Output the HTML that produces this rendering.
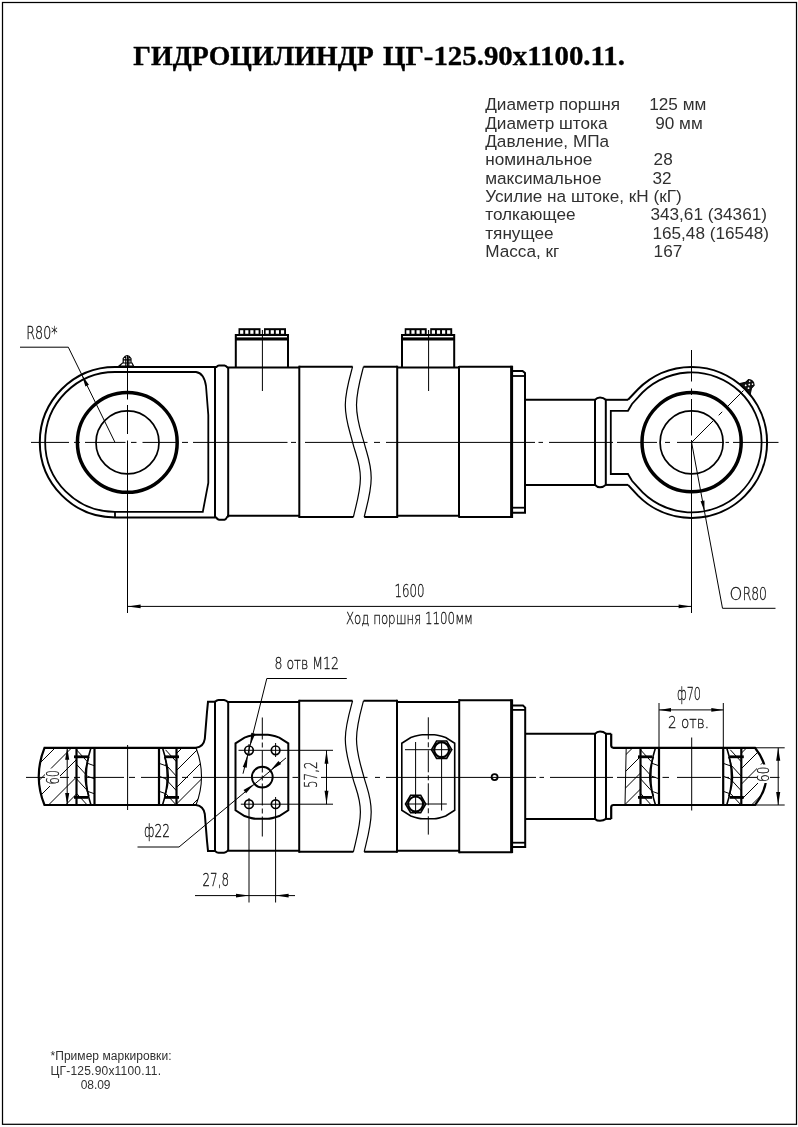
<!DOCTYPE html>
<html lang="ru"><head><meta charset="utf-8"><title>Гидроцилиндр ЦГ-125.90х1100.11</title>
<style>
html,body{margin:0;padding:0;background:#fff;}
body{width:798px;height:1127px;overflow:hidden;}
svg{display:block;will-change:transform;}
svg text{font-family:"Liberation Sans",sans-serif;}
svg .cad{font-family:"DejaVu Sans Light","Liberation Sans",sans-serif;}
svg .ttl{font-family:"Liberation Serif",serif;font-weight:bold;}
</style></head><body>
<svg width="798" height="1127" viewBox="0 0 798 1127" fill="none" stroke="#000" stroke-linecap="butt" stroke-linejoin="miter">
<rect x="0" y="0" width="798" height="1127" fill="#fff" stroke="none"/>
<rect x="2.5" y="2.5" width="794" height="1121.8" stroke-width="1.25"/>
<text class="ttl" x="133.3" y="65" font-size="28" textLength="240.5" lengthAdjust="spacingAndGlyphs" fill="#000" stroke="#000" stroke-width="0.35">ГИДРОЦИЛИНДР</text>
<text class="ttl" x="383" y="65" font-size="28" textLength="242" lengthAdjust="spacingAndGlyphs" fill="#000" stroke="#000" stroke-width="0.35">ЦГ-125.90х1100.11.</text>
<text transform="translate(485.2,110.4) scale(1.1026,1)" font-size="15.6" fill="#303030" stroke="none">Диаметр поршня</text>
<text transform="translate(649.2,110.4) scale(1.1026,1)" font-size="15.6" fill="#303030" stroke="none">125 мм</text>
<text transform="translate(485.2,128.7) scale(1.1026,1)" font-size="15.6" fill="#303030" stroke="none">Диаметр штока</text>
<text transform="translate(655.2,128.7) scale(1.1026,1)" font-size="15.6" fill="#303030" stroke="none">90 мм</text>
<text transform="translate(485.2,147.1) scale(1.1026,1)" font-size="15.6" fill="#303030" stroke="none">Давление, МПа</text>
<text transform="translate(485.2,165.4) scale(1.1026,1)" font-size="15.6" fill="#303030" stroke="none">номинальное</text>
<text transform="translate(653.6,165.4) scale(1.1026,1)" font-size="15.6" fill="#303030" stroke="none">28</text>
<text transform="translate(485.2,183.8) scale(1.1026,1)" font-size="15.6" fill="#303030" stroke="none">максимальное</text>
<text transform="translate(652.4,183.8) scale(1.1026,1)" font-size="15.6" fill="#303030" stroke="none">32</text>
<text transform="translate(485.2,202.1) scale(1.1026,1)" font-size="15.6" fill="#303030" stroke="none">Усилие на штоке, кН (кГ)</text>
<text transform="translate(485.2,220.4) scale(1.1026,1)" font-size="15.6" fill="#303030" stroke="none">толкающее</text>
<text transform="translate(650.4,220.4) scale(1.1026,1)" font-size="15.6" fill="#303030" stroke="none">343,61 (34361)</text>
<text transform="translate(485.2,238.8) scale(1.1026,1)" font-size="15.6" fill="#303030" stroke="none">тянущее</text>
<text transform="translate(652.4,238.8) scale(1.1026,1)" font-size="15.6" fill="#303030" stroke="none">165,48 (16548)</text>
<text transform="translate(485.2,257.1) scale(1.1026,1)" font-size="15.6" fill="#303030" stroke="none">Масса, кг</text>
<text transform="translate(653.6,257.1) scale(1.1026,1)" font-size="15.6" fill="#303030" stroke="none">167</text>
<text x="50.5" y="1060" font-size="12" fill="#303030" stroke="none" textLength="121" lengthAdjust="spacing">*Пример маркировки:</text>
<text x="50.5" y="1074.5" font-size="12" fill="#303030" stroke="none" textLength="110.5" lengthAdjust="spacing">ЦГ-125.90х1100.11.</text>
<text x="80.7" y="1089" font-size="12" fill="#303030" stroke="none" textLength="29.8" lengthAdjust="spacing">08.09</text>
<line x1="31" y1="442.4" x2="69" y2="442.4" stroke-width="1" />
<line x1="74" y1="442.4" x2="80" y2="442.4" stroke-width="1" />
<line x1="85" y1="442.4" x2="125.5" y2="442.4" stroke-width="1" />
<line x1="131" y1="442.4" x2="136.5" y2="442.4" stroke-width="1" />
<line x1="142.5" y1="442.4" x2="176" y2="442.4" stroke-width="1" />
<line x1="182" y1="442.4" x2="188" y2="442.4" stroke-width="1" />
<line x1="193" y1="442.4" x2="287.5" y2="442.4" stroke-width="1" />
<line x1="291" y1="442.4" x2="296" y2="442.4" stroke-width="1" />
<line x1="305" y1="442.4" x2="367.5" y2="442.4" stroke-width="1" />
<line x1="374" y1="442.4" x2="380" y2="442.4" stroke-width="1" />
<line x1="386" y1="442.4" x2="535" y2="442.4" stroke-width="1" />
<line x1="538.5" y1="442.4" x2="543" y2="442.4" stroke-width="1" />
<line x1="549" y1="442.4" x2="613" y2="442.4" stroke-width="1" />
<line x1="617" y1="442.4" x2="657" y2="442.4" stroke-width="1" />
<line x1="665" y1="442.4" x2="670" y2="442.4" stroke-width="1" />
<line x1="677" y1="442.4" x2="723" y2="442.4" stroke-width="1" />
<line x1="725.5" y1="442.4" x2="729" y2="442.4" stroke-width="1" />
<line x1="733" y1="442.4" x2="778.5" y2="442.4" stroke-width="1" />
<path d="M215,367.0 L115,367.0 A75.2,75.2 0 0 0 115,517.4 L215,517.4" stroke-width="2" />
<path d="M115,372 L196,372 Q204,373 206,386 L208.3,415 L208.3,483 L202.8,511.8 L115,511.8 A69.9,69.9 0 0 1 115,372 Z" stroke-width="1.8" />
<line x1="115" y1="511.8" x2="115" y2="517.4" stroke-width="1.8" />
<circle cx="127.3" cy="442.4" r="49.9" stroke-width="3.5" />
<circle cx="127.5" cy="442.4" r="31.5" stroke-width="1.7" />
<line x1="127.5" y1="355.5" x2="127.5" y2="399.5" stroke-width="1" />
<line x1="127.5" y1="405" x2="127.5" y2="434" stroke-width="1" />
<line x1="127.5" y1="440.5" x2="127.5" y2="613" stroke-width="1" />
<path d="M119,366 L133.5,366 L132,363 L122.5,363 Z M123.2,363 L123.2,358.5 Q127.2,352.5 131,358.5 L131,363 M123.2,359.8 L131,359.8 M125.8,356 L125.8,366 M128.8,356 L128.8,366" stroke-width="1.2" />
<path d="M215,367.0 L216.5,367.0 Q217.5,365.5 219,365.4 L224.5,365.4 Q226,365.6 227.5,367.6" stroke-width="2" />
<path d="M215,517.4 L216,517.4 Q217.5,519.6 219,519.7 L224.5,519.7 Q226,519.5 227.5,516.4" stroke-width="2" />
<line x1="215" y1="367.0" x2="215" y2="517.4" stroke-width="2" />
<line x1="228.2" y1="367.0" x2="228.2" y2="517.4" stroke-width="2" />
<line x1="227" y1="367.6" x2="299.5" y2="367.6" stroke-width="2" />
<line x1="227" y1="515.8" x2="299.5" y2="515.8" stroke-width="2" />
<line x1="299.3" y1="365.7" x2="299.3" y2="518.0" stroke-width="2" />
<line x1="299.3" y1="366.7" x2="352.6" y2="366.7" stroke-width="2" />
<line x1="299.3" y1="517.0" x2="353.4" y2="517.0" stroke-width="2" />
<path d="M352.6,366.7 C349,380 345.3,392 345.3,405 C345.3,420 349.5,430 352.6,442.4 C356,456 360.4,463 360.4,478 C360.4,492 356,505 353.4,517.0" stroke-width="1.2" />
<path d="M363.5,366.7 C360,380 356.5,392 356.5,405 C356.5,420 360.5,430 364,442.4 C367.5,456 371.2,463 371.2,478 C371.2,492 367,505 364.2,517.0" stroke-width="1.2" />
<line x1="363.5" y1="366.7" x2="397.2" y2="366.7" stroke-width="2" />
<line x1="364.2" y1="517.0" x2="397.2" y2="517.0" stroke-width="2" />
<line x1="397.2" y1="365.7" x2="397.2" y2="518.0" stroke-width="2" />
<line x1="397.2" y1="367.6" x2="459" y2="367.6" stroke-width="2" />
<line x1="397.2" y1="515.8" x2="459" y2="515.8" stroke-width="2" />
<line x1="459" y1="366" x2="459" y2="517.8" stroke-width="2" />
<line x1="459" y1="366.7" x2="512.6" y2="366.7" stroke-width="2" />
<line x1="459" y1="516.9" x2="512.6" y2="516.9" stroke-width="2" />
<line x1="511.6" y1="365.8" x2="511.6" y2="518" stroke-width="3" />
<path d="M512,371 L522.6,371 L525,373 L525,512.7 L512,512.7" stroke-width="2" />
<line x1="512" y1="376" x2="525" y2="376" stroke-width="1.8" />
<line x1="512" y1="507.7" x2="525" y2="507.7" stroke-width="1.8" />
<line x1="525" y1="399.8" x2="595.5" y2="399.8" stroke-width="2" />
<line x1="605.3" y1="399.8" x2="628" y2="399.8" stroke-width="2" />
<line x1="525" y1="484.9" x2="595.5" y2="484.9" stroke-width="2" />
<line x1="605.3" y1="484.9" x2="628" y2="484.9" stroke-width="2" />
<line x1="595" y1="399.8" x2="595" y2="484.9" stroke-width="2" />
<line x1="605.8" y1="399.8" x2="605.8" y2="484.9" stroke-width="2" />
<path d="M595,399.8 Q597,397.4 600,397.4 Q603.5,397.4 605.8,399.8" stroke-width="2" />
<path d="M595,484.9 Q597,487.3 600,487.3 Q603.5,487.3 605.8,484.9" stroke-width="2" />
<path d="M628,399.8 L638.0,389.2 A75.5,75.5 0 1 1 638.0,495.6 L628,484.9" stroke-width="2" />
<path d="M610.8,442.4 L610.8,410.8 L628,410.8 L632,404 L638.0,397.4 A70,70 0 1 1 638.0,487.4 L632,480.8 L628,474 L610.8,474 Z" stroke-width="1.8" />
<circle cx="691.6" cy="442.2" r="49.6" stroke-width="3.5" />
<circle cx="691.6" cy="442.4" r="31.5" stroke-width="1.7" />
<line x1="691.5" y1="350" x2="691.5" y2="381.5" stroke-width="1" />
<line x1="691.5" y1="388.5" x2="691.5" y2="395" stroke-width="1" />
<line x1="691.5" y1="399" x2="691.5" y2="435.5" stroke-width="1" />
<line x1="691.5" y1="440" x2="691.5" y2="613" stroke-width="1" />
<line x1="691.6" y1="442.4" x2="743.5" y2="390.5" stroke-width="1" stroke-dasharray="30.3 8 5 7.5 40"/>
<g transform="translate(745.0,388.8) rotate(45)"><path d="M-7.5,0 L7.5,0 L4.2,-5 L4,-9 Q0,-12.5 -4,-9 L-4.2,-5 Z" fill="#111" stroke-width="1"/><circle cx="-2" cy="-3" r="0.9" fill="#fff" stroke="none"/><circle cx="2" cy="-3" r="0.9" fill="#fff" stroke="none"/><circle cx="0" cy="-6" r="0.9" fill="#fff" stroke="none"/><circle cx="-2" cy="-8.6" r="0.8" fill="#fff" stroke="none"/><circle cx="2" cy="-8.6" r="0.8" fill="#fff" stroke="none"/></g>
<line x1="691.6" y1="442.4" x2="722.5" y2="608.3" stroke-width="1" />
<line x1="722.5" y1="608.3" x2="775.5" y2="608.3" stroke-width="1" />
<polygon points="704.51,511.71 704.41,500.54 700.58,501.25" fill="#000" stroke="none"/>
<text class="cad" x="729.6" y="600.2" font-size="17.3" textLength="12.8" lengthAdjust="spacingAndGlyphs" text-anchor="start" fill="#111" stroke="#111" stroke-width="0.3">О</text>
<text class="cad" x="742.7" y="599.6" font-size="17.2" textLength="24.3" lengthAdjust="spacingAndGlyphs" text-anchor="start" fill="#111" stroke="#111" stroke-width="0.3">R80</text>
<path d="M235.8,367.0 L235.8,335 L288.0,335 L288.0,367.0" stroke-width="2" />
<rect x="235.8" y="337.4" width="52.2" height="3.1" fill="#000" stroke="none"/>
<rect x="238.5" y="328.2" width="22" height="6.8" fill="#000" stroke="none"/>
<rect x="240.1" y="330.2" width="3.2" height="3.6" fill="#fff" stroke="none"/>
<rect x="245.2" y="330.2" width="3.2" height="3.6" fill="#fff" stroke="none"/>
<rect x="250.3" y="330.2" width="3.2" height="3.6" fill="#fff" stroke="none"/>
<rect x="255.4" y="330.2" width="3.2" height="3.6" fill="#fff" stroke="none"/>
<rect x="264.0" y="328.2" width="22" height="6.8" fill="#000" stroke="none"/>
<rect x="265.6" y="330.2" width="3.2" height="3.6" fill="#fff" stroke="none"/>
<rect x="270.7" y="330.2" width="3.2" height="3.6" fill="#fff" stroke="none"/>
<rect x="275.8" y="330.2" width="3.2" height="3.6" fill="#fff" stroke="none"/>
<rect x="280.9" y="330.2" width="3.2" height="3.6" fill="#fff" stroke="none"/>
<line x1="262.40000000000003" y1="330" x2="262.40000000000003" y2="391" stroke-width="1" />
<path d="M402.0,367.0 L402.0,335 L454.2,335 L454.2,367.0" stroke-width="2" />
<rect x="402.0" y="337.4" width="52.2" height="3.1" fill="#000" stroke="none"/>
<rect x="404.7" y="328.2" width="22" height="6.8" fill="#000" stroke="none"/>
<rect x="406.3" y="330.2" width="3.2" height="3.6" fill="#fff" stroke="none"/>
<rect x="411.4" y="330.2" width="3.2" height="3.6" fill="#fff" stroke="none"/>
<rect x="416.5" y="330.2" width="3.2" height="3.6" fill="#fff" stroke="none"/>
<rect x="421.6" y="330.2" width="3.2" height="3.6" fill="#fff" stroke="none"/>
<rect x="430.2" y="328.2" width="22" height="6.8" fill="#000" stroke="none"/>
<rect x="431.8" y="330.2" width="3.2" height="3.6" fill="#fff" stroke="none"/>
<rect x="436.9" y="330.2" width="3.2" height="3.6" fill="#fff" stroke="none"/>
<rect x="442.0" y="330.2" width="3.2" height="3.6" fill="#fff" stroke="none"/>
<rect x="447.1" y="330.2" width="3.2" height="3.6" fill="#fff" stroke="none"/>
<line x1="428.6" y1="330" x2="428.6" y2="391" stroke-width="1" />
<line x1="20" y1="347.2" x2="68.3" y2="347.2" stroke-width="1" />
<line x1="68.3" y1="347.2" x2="115" y2="442.4" stroke-width="1" />
<polygon points="81.88,374.89 85.42,386.52 88.92,384.80" fill="#000" stroke="none"/>
<text class="cad" x="26.3" y="338.8" font-size="17.5" textLength="31.3" lengthAdjust="spacingAndGlyphs" text-anchor="start" fill="#111" stroke="#111" stroke-width="0.3">R80*</text>
<line x1="127.6" y1="606.4" x2="691.6" y2="606.4" stroke-width="1" />
<polygon points="127.60,606.40 140.60,608.25 140.60,604.55" fill="#000" stroke="none"/>
<polygon points="691.60,606.40 678.60,604.55 678.60,608.25" fill="#000" stroke="none"/>
<text class="cad" x="394.5" y="597" font-size="18" textLength="30" lengthAdjust="spacingAndGlyphs" text-anchor="start" fill="#111" stroke="#111" stroke-width="0.3">1600</text>
<text class="cad" x="346" y="624" font-size="16.5" textLength="127" lengthAdjust="spacingAndGlyphs" text-anchor="start" fill="#111" stroke="#111" stroke-width="0.3">Ход поршня 1100мм</text>
<line x1="26" y1="777.4" x2="69" y2="777.4" stroke-width="1" />
<line x1="74" y1="777.4" x2="80" y2="777.4" stroke-width="1" />
<line x1="85" y1="777.4" x2="124" y2="777.4" stroke-width="1" />
<line x1="129" y1="777.4" x2="135" y2="777.4" stroke-width="1" />
<line x1="141" y1="777.4" x2="177" y2="777.4" stroke-width="1" />
<line x1="182" y1="777.4" x2="188" y2="777.4" stroke-width="1" />
<line x1="193" y1="777.4" x2="289" y2="777.4" stroke-width="1" />
<line x1="292.5" y1="777.4" x2="298" y2="777.4" stroke-width="1" />
<line x1="321" y1="777.4" x2="367.5" y2="777.4" stroke-width="1" />
<line x1="375" y1="777.4" x2="380" y2="777.4" stroke-width="1" />
<line x1="386" y1="777.4" x2="536" y2="777.4" stroke-width="1" />
<line x1="539.5" y1="777.4" x2="544" y2="777.4" stroke-width="1" />
<line x1="550" y1="777.4" x2="613" y2="777.4" stroke-width="1" />
<line x1="617" y1="777.4" x2="656" y2="777.4" stroke-width="1" />
<line x1="662.5" y1="777.4" x2="669" y2="777.4" stroke-width="1" />
<line x1="677" y1="777.4" x2="721" y2="777.4" stroke-width="1" />
<line x1="725.5" y1="777.4" x2="729" y2="777.4" stroke-width="1" />
<line x1="733" y1="777.4" x2="779.5" y2="777.4" stroke-width="1" />
<path d="M196,747.8 L44.5,747.8 Q33,776.4 44.5,805.0 L196,805.0" stroke-width="2.2" />
<path d="M196,747.8 Q203.5,746.8 204.8,738.8 L207,712 L208,701.8 L215,701.8" stroke-width="2" />
<path d="M196,805.0 Q203.5,806.0 204.8,814.0 L207,841 L208,850.9 L215,850.9" stroke-width="2" />
<path d="M196,747.8 Q207,776.4 196,805.0" stroke-width="1.1" />
<clipPath id="h1"><path d="M44.5,747.8 Q33,776.4 44.5,805.0 L76.5,805.0 L76.5,747.8 Z"/></clipPath>
<g clip-path="url(#h1)">
<line x1="-4.0" y1="807.0" x2="57.200000000000045" y2="745.8" stroke-width="1.0" />
<line x1="12.5" y1="807.0" x2="73.70000000000005" y2="745.8" stroke-width="1.0" />
<line x1="29.0" y1="807.0" x2="90.20000000000005" y2="745.8" stroke-width="1.0" />
<line x1="46.5" y1="807.0" x2="107.70000000000005" y2="745.8" stroke-width="1.0" />
<line x1="63.5" y1="807.0" x2="124.70000000000005" y2="745.8" stroke-width="1.0" />
</g>
<clipPath id="h2"><path d="M176,747.8 L196,747.8 Q207,776.4 196,805.0 L176,805.0 Z"/></clipPath>
<g clip-path="url(#h2)">
<line x1="123.0" y1="807.0" x2="184.20000000000005" y2="745.8" stroke-width="1.0" />
<line x1="140.0" y1="807.0" x2="201.20000000000005" y2="745.8" stroke-width="1.0" />
<line x1="157.0" y1="807.0" x2="218.20000000000005" y2="745.8" stroke-width="1.0" />
<line x1="173.5" y1="807.0" x2="234.70000000000005" y2="745.8" stroke-width="1.0" />
<line x1="190.0" y1="807.0" x2="251.20000000000005" y2="745.8" stroke-width="1.0" />
</g>
<line x1="76.5" y1="747.8" x2="76.5" y2="805.0" stroke-width="2.2" />
<line x1="94.5" y1="747.8" x2="94.5" y2="805.0" stroke-width="2.2" />
<path d="M91.0,747.8 Q81.5,776.4 91.0,805.0" stroke-width="1.6" />
<path d="M89.0,756.8 Q81.3,776.4 89.0,796.0" stroke-width="1.4" />
<rect x="74.0" y="755.4" width="14" height="2.8" fill="#000" stroke="none"/>
<rect x="74.0" y="796.0" width="14" height="2.8" fill="#000" stroke="none"/>
<clipPath id="b76"><rect x="76.5" y="747.8" width="18.0" height="57.200000000000045"/></clipPath>
<g clip-path="url(#b76)">
<line x1="76.5" y1="735.3" x2="87.5" y2="747.3" stroke-width="1" />
<line x1="76.5" y1="749.8" x2="87.5" y2="761.8" stroke-width="1" />
<line x1="76.5" y1="764.3" x2="87.5" y2="776.3" stroke-width="1" />
<line x1="76.5" y1="778.8" x2="87.5" y2="790.8" stroke-width="1" />
<line x1="76.5" y1="793.3" x2="87.5" y2="805.3" stroke-width="1" />
<line x1="76.5" y1="807.8" x2="87.5" y2="819.8" stroke-width="1" />
<line x1="87.5" y1="763.3" x2="94.5" y2="765.8" stroke-width="1" />
<line x1="87.5" y1="776.3" x2="94.5" y2="778.8" stroke-width="1" />
<line x1="87.5" y1="791.3" x2="94.5" y2="793.8" stroke-width="1" />
</g>
<line x1="176.5" y1="747.8" x2="176.5" y2="805.0" stroke-width="2.2" />
<line x1="159" y1="747.8" x2="159" y2="805.0" stroke-width="2.2" />
<path d="M162.5,747.8 Q172,776.4 162.5,805.0" stroke-width="1.6" />
<path d="M164.5,756.8 Q172.2,776.4 164.5,796.0" stroke-width="1.4" />
<rect x="165.0" y="755.4" width="14" height="2.8" fill="#000" stroke="none"/>
<rect x="165.0" y="796.0" width="14" height="2.8" fill="#000" stroke="none"/>
<clipPath id="b176"><rect x="159" y="747.8" width="17.5" height="57.200000000000045"/></clipPath>
<g clip-path="url(#b176)">
<line x1="165.5" y1="735.3" x2="176.5" y2="747.3" stroke-width="1" />
<line x1="165.5" y1="749.8" x2="176.5" y2="761.8" stroke-width="1" />
<line x1="165.5" y1="764.3" x2="176.5" y2="776.3" stroke-width="1" />
<line x1="165.5" y1="778.8" x2="176.5" y2="790.8" stroke-width="1" />
<line x1="165.5" y1="793.3" x2="176.5" y2="805.3" stroke-width="1" />
<line x1="165.5" y1="807.8" x2="176.5" y2="819.8" stroke-width="1" />
<line x1="159" y1="763.3" x2="166" y2="765.8" stroke-width="1" />
<line x1="159" y1="776.3" x2="166" y2="778.8" stroke-width="1" />
<line x1="159" y1="791.3" x2="166" y2="793.8" stroke-width="1" />
</g>
<line x1="127.6" y1="745" x2="127.6" y2="810" stroke-width="1" />
<line x1="67.2" y1="747.8" x2="67.2" y2="805.0" stroke-width="1" />
<polygon points="67.20,747.80 65.15,759.80 69.25,759.80" fill="#000" stroke="none"/>
<polygon points="67.20,805.00 69.25,793.00 65.15,793.00" fill="#000" stroke="none"/>
<rect x="45" y="768.5" width="15" height="17.5" fill="#fff" stroke="none"/>
<text class="cad" x="59" y="784.6" font-size="18" textLength="14.6" lengthAdjust="spacingAndGlyphs" text-anchor="start" fill="#111" stroke="#111" stroke-width="0.3" transform="rotate(-90 59 784.6)">60</text>
<path d="M215,701.8 Q217,700.0 218.5,700.0 L224,700.0 Q226,700.1999999999999 227.5,701.8" stroke-width="2" />
<path d="M215,850.9 Q217,852.6999999999999 218.5,852.6999999999999 L224,852.6999999999999 Q226,852.5 227.5,850.9" stroke-width="2" />
<line x1="215" y1="701.8" x2="215" y2="850.9" stroke-width="2" />
<line x1="228.2" y1="701.8" x2="228.2" y2="850.9" stroke-width="2" />
<line x1="227" y1="701.9" x2="299.3" y2="701.9" stroke-width="2" />
<line x1="227" y1="850.8" x2="299.3" y2="850.8" stroke-width="2" />
<line x1="299.2" y1="699.8" x2="299.2" y2="852.8" stroke-width="2" />
<line x1="299.2" y1="700.8" x2="352.6" y2="700.8" stroke-width="2" />
<line x1="299.2" y1="851.8" x2="353.4" y2="851.8" stroke-width="2" />
<path d="M352.6,700.8 C349,714 345.3,726 345.3,739 C345.3,754 349.5,764 352.6,777.4 C356,790 360.4,797 360.4,812 C360.4,826 356,840 353.4,851.8" stroke-width="1.2" />
<path d="M363.5,700.8 C360,714 356.5,726 356.5,739 C356.5,754 360.5,764 364,777.4 C367.5,790 371.2,797 371.2,812 C371.2,826 367,840 364.2,851.8" stroke-width="1.2" />
<line x1="363.5" y1="700.8" x2="397" y2="700.8" stroke-width="2" />
<line x1="364.2" y1="851.8" x2="397" y2="851.8" stroke-width="2" />
<line x1="397" y1="699.8" x2="397" y2="852.8" stroke-width="2" />
<line x1="397" y1="701.9" x2="459.2" y2="701.9" stroke-width="2" />
<line x1="397" y1="850.8" x2="459.2" y2="850.8" stroke-width="2" />
<line x1="459.2" y1="699.1999999999999" x2="459.2" y2="853.1999999999999" stroke-width="2" />
<line x1="459.2" y1="700.1999999999999" x2="512.5" y2="700.1999999999999" stroke-width="2" />
<line x1="459.2" y1="852.1999999999999" x2="512.5" y2="852.1999999999999" stroke-width="2" />
<line x1="511.6" y1="699.4" x2="511.6" y2="853.0" stroke-width="3" />
<path d="M512,705.6 L523,705.6 L525.2,707.6 L525.2,847 L512,847" stroke-width="2" />
<line x1="512" y1="709.9" x2="525.2" y2="709.9" stroke-width="1.8" />
<line x1="512" y1="842.7" x2="525.2" y2="842.7" stroke-width="1.8" />
<line x1="525.4" y1="733.8" x2="595.5" y2="733.8" stroke-width="2" />
<line x1="605.5" y1="733.8" x2="611.2" y2="733.8" stroke-width="2" />
<line x1="525.4" y1="818.9" x2="595.5" y2="818.9" stroke-width="2" />
<line x1="605.5" y1="818.9" x2="611.2" y2="818.9" stroke-width="2" />
<line x1="595" y1="733.8" x2="595" y2="818.9" stroke-width="2" />
<line x1="606" y1="733.8" x2="606" y2="818.9" stroke-width="2" />
<path d="M595,733.8 Q597,731.6 600,731.6 Q603.5,731.6 606,733.8" stroke-width="2" />
<path d="M595,818.9 Q597,820.8 600,820.8 Q603.5,820.8 606,818.9" stroke-width="2" />
<circle cx="494.6" cy="777.1" r="3" stroke-width="1.8" />
<path d="M611.2,733.8 L611.2,745.5 Q611.4,747.8 613.5,747.8 L755,747.8 Q777.5,776.4 755,805.0 L613.5,805.0 Q611.4,805.0 611.2,807.0 L611.2,818.9" stroke-width="2.2" />
<line x1="626.2" y1="747.8" x2="625" y2="805.0" stroke-width="1" />
<clipPath id="h3"><path d="M626.2,747.8 L640.5,747.8 L640.5,805.0 L625,805.0 Z"/></clipPath>
<g clip-path="url(#h3)">
<line x1="573.5" y1="807.0" x2="634.7" y2="745.8" stroke-width="1.0" />
<line x1="590.0" y1="807.0" x2="651.2" y2="745.8" stroke-width="1.0" />
<line x1="606.5" y1="807.0" x2="667.7" y2="745.8" stroke-width="1.0" />
<line x1="622.5" y1="807.0" x2="683.7" y2="745.8" stroke-width="1.0" />
<line x1="639.0" y1="807.0" x2="700.2" y2="745.8" stroke-width="1.0" />
</g>
<clipPath id="h4"><path d="M741.3,747.8 L755,747.8 Q777.5,776.4 755,805.0 L741.3,805.0 Z"/></clipPath>
<g clip-path="url(#h4)">
<line x1="687.5" y1="807.0" x2="748.7" y2="745.8" stroke-width="1.0" />
<line x1="703.0" y1="807.0" x2="764.2" y2="745.8" stroke-width="1.0" />
<line x1="718.5" y1="807.0" x2="779.7" y2="745.8" stroke-width="1.0" />
<line x1="734.0" y1="807.0" x2="795.2" y2="745.8" stroke-width="1.0" />
<line x1="749.5" y1="807.0" x2="810.7" y2="745.8" stroke-width="1.0" />
</g>
<line x1="640.5" y1="747.8" x2="640.5" y2="805.0" stroke-width="2.2" />
<line x1="659" y1="747.8" x2="659" y2="805.0" stroke-width="2.2" />
<path d="M655.5,747.8 Q646,776.4 655.5,805.0" stroke-width="1.6" />
<path d="M653.5,756.8 Q645.8,776.4 653.5,796.0" stroke-width="1.4" />
<rect x="638.0" y="755.4" width="14" height="2.8" fill="#000" stroke="none"/>
<rect x="638.0" y="796.0" width="14" height="2.8" fill="#000" stroke="none"/>
<clipPath id="b640"><rect x="640.5" y="747.8" width="18.5" height="57.200000000000045"/></clipPath>
<g clip-path="url(#b640)">
<line x1="640.5" y1="735.3" x2="651.5" y2="747.3" stroke-width="1" />
<line x1="640.5" y1="749.8" x2="651.5" y2="761.8" stroke-width="1" />
<line x1="640.5" y1="764.3" x2="651.5" y2="776.3" stroke-width="1" />
<line x1="640.5" y1="778.8" x2="651.5" y2="790.8" stroke-width="1" />
<line x1="640.5" y1="793.3" x2="651.5" y2="805.3" stroke-width="1" />
<line x1="640.5" y1="807.8" x2="651.5" y2="819.8" stroke-width="1" />
<line x1="652" y1="763.3" x2="659" y2="765.8" stroke-width="1" />
<line x1="652" y1="776.3" x2="659" y2="778.8" stroke-width="1" />
<line x1="652" y1="791.3" x2="659" y2="793.8" stroke-width="1" />
</g>
<line x1="741.3" y1="747.8" x2="741.3" y2="805.0" stroke-width="2.2" />
<line x1="723.2" y1="747.8" x2="723.2" y2="805.0" stroke-width="2.2" />
<path d="M726.7,747.8 Q736.2,776.4 726.7,805.0" stroke-width="1.6" />
<path d="M728.7,756.8 Q736.4000000000001,776.4 728.7,796.0" stroke-width="1.4" />
<rect x="729.8" y="755.4" width="14" height="2.8" fill="#000" stroke="none"/>
<rect x="729.8" y="796.0" width="14" height="2.8" fill="#000" stroke="none"/>
<clipPath id="b741"><rect x="723.2" y="747.8" width="18.09999999999991" height="57.200000000000045"/></clipPath>
<g clip-path="url(#b741)">
<line x1="730.3" y1="735.3" x2="741.3" y2="747.3" stroke-width="1" />
<line x1="730.3" y1="749.8" x2="741.3" y2="761.8" stroke-width="1" />
<line x1="730.3" y1="764.3" x2="741.3" y2="776.3" stroke-width="1" />
<line x1="730.3" y1="778.8" x2="741.3" y2="790.8" stroke-width="1" />
<line x1="730.3" y1="793.3" x2="741.3" y2="805.3" stroke-width="1" />
<line x1="730.3" y1="807.8" x2="741.3" y2="819.8" stroke-width="1" />
<line x1="723.2" y1="763.3" x2="730.2" y2="765.8" stroke-width="1" />
<line x1="723.2" y1="776.3" x2="730.2" y2="778.8" stroke-width="1" />
<line x1="723.2" y1="791.3" x2="730.2" y2="793.8" stroke-width="1" />
</g>
<line x1="691.7" y1="737.5" x2="691.7" y2="810.5" stroke-width="1" />
<line x1="755" y1="747.8" x2="784.7" y2="747.8" stroke-width="1" />
<line x1="755" y1="805.0" x2="784.7" y2="805.0" stroke-width="1" />
<line x1="778.2" y1="747.8" x2="778.2" y2="805.0" stroke-width="1" />
<polygon points="778.20,747.80 776.15,760.80 780.25,760.80" fill="#000" stroke="none"/>
<polygon points="778.20,805.00 780.25,792.00 776.15,792.00" fill="#000" stroke="none"/>
<rect x="757" y="764.5" width="13" height="18.5" fill="#fff" stroke="none"/>
<text class="cad" x="769" y="782" font-size="16.5" textLength="15.5" lengthAdjust="spacingAndGlyphs" text-anchor="start" fill="#111" stroke="#111" stroke-width="0.3" transform="rotate(-90 769 782)">60</text>
<line x1="659" y1="703" x2="659" y2="747.8" stroke-width="1" />
<line x1="723.3" y1="703" x2="723.3" y2="747.8" stroke-width="1" />
<line x1="659" y1="709.9" x2="723.3" y2="709.9" stroke-width="1" />
<polygon points="659.00,709.90 671.00,711.85 671.00,707.95" fill="#000" stroke="none"/>
<polygon points="723.30,709.90 711.30,707.95 711.30,711.85" fill="#000" stroke="none"/>
<text class="cad" x="677" y="700.4" font-size="17" textLength="24" lengthAdjust="spacingAndGlyphs" text-anchor="start" fill="#111" stroke="#111" stroke-width="0.3">ф70</text>
<text class="cad" x="668" y="727.8" font-size="16.5" textLength="41" lengthAdjust="spacingAndGlyphs" text-anchor="start" fill="#111" stroke="#111" stroke-width="0.3">2 отв.</text>
<path d="M235.5,743.3 L244.5,737.6 Q252.89999999999998,734.8 255.89999999999998,734.8 L267.9,734.8 Q270.9,734.8 279.3,737.6 L288.3,743.3 L288.3,810.3 L279.3,816 Q270.9,818.8 267.9,818.8 L255.89999999999998,818.8 Q252.89999999999998,818.8 244.5,816 L235.5,810.3 Z" stroke-width="2" />
<circle cx="249" cy="750.3" r="4.3" stroke-width="1.7" />
<circle cx="249" cy="804.2" r="4.3" stroke-width="1.7" />
<circle cx="275.6" cy="750.3" r="4.3" stroke-width="1.7" />
<circle cx="275.6" cy="804.2" r="4.3" stroke-width="1.7" />
<circle cx="262.3" cy="777.1" r="10.4" stroke-width="1.9" />
<line x1="262.3" y1="717.5" x2="262.3" y2="836.5" stroke-width="1" stroke-dasharray="22 3 5 3"/>
<line x1="238.5" y1="750.3" x2="333" y2="750.3" stroke-width="1" />
<line x1="240.8" y1="804.2" x2="333" y2="804.2" stroke-width="1" />
<line x1="249" y1="744" x2="249" y2="756" stroke-width="1" />
<line x1="275.6" y1="743" x2="275.6" y2="757" stroke-width="1" />
<line x1="249" y1="798" x2="249" y2="902.5" stroke-width="1" />
<line x1="275.6" y1="797" x2="275.6" y2="902.5" stroke-width="1" />
<line x1="326.5" y1="750.3" x2="326.5" y2="804.2" stroke-width="1" />
<polygon points="326.50,750.30 324.55,763.80 328.45,763.80" fill="#000" stroke="none"/>
<polygon points="326.50,804.20 328.45,790.70 324.55,790.70" fill="#000" stroke="none"/>
<text class="cad" x="317" y="788" font-size="17" textLength="26.5" lengthAdjust="spacingAndGlyphs" text-anchor="start" fill="#111" stroke="#111" stroke-width="0.3" transform="rotate(-90 317 788)">57,2</text>
<line x1="195" y1="895.6" x2="295" y2="895.6" stroke-width="1" />
<polygon points="249.00,895.60 236.00,893.75 236.00,897.45" fill="#000" stroke="none"/>
<polygon points="275.60,895.60 288.60,897.45 288.60,893.75" fill="#000" stroke="none"/>
<text class="cad" x="202.5" y="886.4" font-size="17" textLength="26.5" lengthAdjust="spacingAndGlyphs" text-anchor="start" fill="#111" stroke="#111" stroke-width="0.3">27,8</text>
<line x1="266.8" y1="678.5" x2="346.8" y2="678.5" stroke-width="1" />
<line x1="266.8" y1="678.5" x2="243" y2="773.7" stroke-width="1" />
<polygon points="250.12,745.84 255.26,733.72 251.28,732.73" fill="#000" stroke="none"/>
<polygon points="247.88,754.76 242.74,766.88 246.72,767.87" fill="#000" stroke="none"/>
<text class="cad" x="274.5" y="668.8" font-size="16.5" textLength="64.5" lengthAdjust="spacingAndGlyphs" text-anchor="start" fill="#111" stroke="#111" stroke-width="0.3">8 отв М12</text>
<line x1="137.5" y1="847" x2="179" y2="847" stroke-width="1" />
<line x1="179" y1="847" x2="286" y2="757.9" stroke-width="1" />
<polygon points="270.60,770.19 281.13,764.09 278.51,760.93" fill="#000" stroke="none"/>
<polygon points="254.00,784.01 243.47,790.11 246.09,793.27" fill="#000" stroke="none"/>
<text class="cad" x="144" y="837" font-size="17" textLength="26" lengthAdjust="spacingAndGlyphs" text-anchor="start" fill="#111" stroke="#111" stroke-width="0.3">ф22</text>
<path d="M401.8,743.3 L410.8,737.6 Q419.25,734.8 422.25,734.8 L434.25,734.8 Q437.25,734.8 445.7,737.6 L454.7,743.3 L454.7,810.3 L445.7,816 Q437.25,818.8 434.25,818.8 L422.25,818.8 Q419.25,818.8 410.8,816 L401.8,810.3 Z" stroke-width="1.6" />
<polygon points="451.7,749.7 446.7,758.4 436.6,758.4 431.5,749.7 436.6,741.0 446.7,741.0" stroke-width="1.6"/>
<circle cx="441.6" cy="749.7" r="7.5" stroke-width="2.2" />
<polygon points="425.7,804.0 420.7,812.7 410.6,812.7 405.5,804.0 410.6,795.3 420.7,795.3" stroke-width="1.6"/>
<circle cx="415.6" cy="804" r="7.5" stroke-width="2.2" />
<line x1="428.3" y1="717.3" x2="428.3" y2="834.6" stroke-width="1" stroke-dasharray="22 3 5 3"/>
<line x1="405" y1="749.7" x2="452.4" y2="749.7" stroke-width="1" />
<line x1="405" y1="804" x2="446.8" y2="804" stroke-width="1" />
<line x1="415.6" y1="742" x2="415.6" y2="814" stroke-width="1" />
<line x1="441.6" y1="742" x2="441.6" y2="810.5" stroke-width="1" />
</svg>
</body></html>
